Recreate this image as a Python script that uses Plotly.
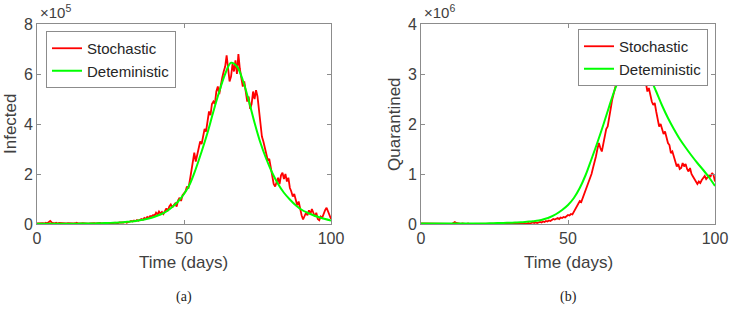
import numpy as np
import plotly.graph_objects as go

# ---------------- data (values in units of 1e5 / 1e6) ----------------
# Stochastic infected, every 0.5 day from t=0 to t=100 (x 1e5)
infected_stoch = [
    0.02, 0.03, 0.02, 0.04, 0.03, 0.02, 0.05, 0.03, 0.08, 0.12,
    0.06, 0.04, 0.03, 0.05, 0.02, 0.04, 0.03, 0.02, 0.03, 0.02,
    0.02, 0.03, 0.02, 0.04, 0.03, 0.02, 0.03, 0.05, 0.02, 0.01,
    0.02, 0.03, 0.02, 0.04, 0.02, 0.01, 0.02, 0.03, 0.02, 0.03,
    0.02, 0.03, 0.05, 0.04, 0.02, 0.03, 0.02, 0.06, 0.04, 0.03,
    0.02, 0.04, 0.03, 0.05, 0.04, 0.03, 0.06, 0.05, 0.07, 0.06,
    0.08, 0.05, 0.07, 0.09, 0.12, 0.10, 0.14, 0.11, 0.16, 0.13,
    0.18, 0.20, 0.17, 0.24, 0.21, 0.28, 0.25, 0.32, 0.30, 0.36,
    0.33, 0.45, 0.38, 0.50, 0.42, 0.48, 0.40, 0.55, 0.62, 0.52,
    0.70, 0.78, 0.66, 0.75, 0.82, 0.70, 0.95, 1.05, 0.92, 1.15,
    1.25, 1.30, 1.50, 1.42, 1.75, 2.10, 2.60, 2.85, 2.50, 2.75,
    3.00, 3.30, 3.20, 3.55, 3.80, 3.70, 4.20, 4.50, 4.35, 4.80,
    4.90, 4.80, 5.30, 5.50, 5.20, 5.60, 5.85, 6.10, 6.30, 6.75,
    6.20, 5.70, 5.90, 6.40, 6.10, 6.55, 6.00, 6.80, 6.20, 5.80,
    5.50, 5.70, 5.20, 4.90, 5.10, 4.60, 4.80, 5.30, 5.00, 5.35,
    5.10, 4.60, 3.90, 3.50, 3.30, 3.00, 2.75, 2.55, 2.60, 2.30,
    1.90, 1.60, 1.50, 1.70, 1.85, 1.60, 1.95, 2.05, 1.80, 2.00,
    1.70, 1.85, 1.45, 1.30, 1.10, 1.20, 0.95, 0.75, 0.90, 0.60,
    0.35, 0.18, 0.30, 0.45, 0.35, 0.55, 0.40, 0.60, 0.45, 0.30,
    0.45, 0.20, 0.15, 0.30, 0.25, 0.45, 0.55, 0.65, 0.50, 0.35,
    0.20,
]
# Deterministic infected, every 2 days from t=0 to t=100 (x 1e5)
infected_det = [
    0.01, 0.01, 0.01, 0.01, 0.01, 0.01, 0.01, 0.015, 0.02, 0.02,
    0.025, 0.03, 0.04, 0.05, 0.06, 0.08, 0.10, 0.13, 0.17, 0.22,
    0.29, 0.38, 0.50, 0.68, 0.90, 1.20, 1.60, 2.20, 2.90, 3.65,
    4.50, 5.30, 6.00, 6.45, 6.30, 5.75, 4.95, 4.05, 3.25, 2.60,
    2.05, 1.60, 1.25, 0.98, 0.75, 0.57, 0.45, 0.35, 0.27, 0.20,
    0.14,
]
# Stochastic quarantined, every 0.5 day (x 1e6)
quar_stoch = [
    0.01, 0.01, 0.00, 0.01, 0.00, 0.01, 0.00, 0.00, 0.01, 0.00,
    0.00, 0.01, 0.00, 0.00, 0.01, 0.00, 0.00, 0.01, 0.00, 0.00,
    0.01, 0.00, 0.02, 0.04, 0.02, 0.01, 0.00, 0.00, 0.01, 0.00,
    0.00, 0.00, 0.01, 0.00, 0.00, 0.00, 0.01, 0.00, 0.00, 0.00,
    0.00, 0.00, 0.00, 0.01, 0.00, 0.00, 0.00, 0.00, 0.00, 0.00,
    0.00, 0.00, 0.01, 0.00, 0.00, 0.01, 0.00, 0.00, 0.01, 0.00,
    0.00, 0.01, 0.00, 0.01, 0.00, 0.00, 0.01, 0.00, 0.01, 0.02,
    0.01, 0.00, 0.01, 0.02, 0.01, 0.02, 0.03, 0.02, 0.03, 0.02,
    0.03, 0.04, 0.03, 0.05, 0.04, 0.06, 0.05, 0.07, 0.06, 0.08,
    0.10, 0.09, 0.11, 0.12, 0.10, 0.13, 0.12, 0.14, 0.13, 0.16,
    0.18, 0.17, 0.20, 0.19, 0.24, 0.30, 0.36, 0.40, 0.46, 0.44,
    0.52, 0.58, 0.66, 0.72, 0.82, 0.90, 1.00, 1.12, 1.22, 1.35,
    1.50, 1.62, 1.52, 1.45, 1.60, 1.75, 1.90, 1.95, 2.10, 2.30,
    2.48, 2.60, 2.70, 2.85, 2.95, 3.02, 3.08, 3.15, 3.10, 3.20,
    3.25, 3.15, 3.22, 3.30, 3.20, 3.10, 3.18, 3.05, 2.95, 3.00,
    2.88, 2.95, 2.78, 2.82, 2.65, 2.72, 2.55, 2.45, 2.38, 2.42,
    2.25, 2.10, 1.95, 2.00, 1.88, 1.80, 1.85, 1.70, 1.62, 1.58,
    1.42, 1.45, 1.35, 1.28, 1.15, 1.20, 1.10, 1.12, 1.22, 1.15,
    1.20, 1.10, 1.05, 1.12, 1.00, 0.95, 0.90, 0.84, 0.80, 0.85,
    0.82, 0.88, 0.92, 0.96, 0.90, 0.93, 0.97, 0.95, 1.02, 0.98,
    0.85,
]
# Deterministic quarantined, every 2 days (x 1e6)
quar_det = [
    0.01, 0.01, 0.01, 0.01, 0.01, 0.01, 0.01, 0.01, 0.01, 0.01,
    0.01, 0.012, 0.015, 0.018, 0.02, 0.025, 0.03, 0.035, 0.045, 0.055,
    0.07, 0.10, 0.14, 0.20, 0.28, 0.38, 0.52, 0.72, 0.98, 1.30,
    1.63, 1.98, 2.35, 2.70, 2.98, 3.20, 3.32, 3.30, 3.15, 2.92,
    2.65, 2.37, 2.12, 1.90, 1.70, 1.53, 1.37, 1.22, 1.08, 0.93,
    0.76,
]
series_names = ["Stochastic", "Deteministic"]
x_ticks = [0, 50, 100]
y_ticks_left = [0, 2, 4, 6, 8]
y_ticks_right = [0, 1, 2, 3, 4]
y_labels = ["Infected", "Quarantined"]
x_label = "Time (days)"
multipliers = ["×10<sup>5</sup>", "×10<sup>6</sup>"]
captions = ["(a)", "(b)"]

t_stoch = np.arange(len(infected_stoch)) * 0.5
t_det = np.arange(len(infected_det)) * 2.0

RED = "#ff0000"
GREEN = "#00ff00"
FONT = "Liberation Sans, Arial, Helvetica, sans-serif"
TXT = "#404040"
AX = "#8c8c8c"

W, H = 729, 309
fig = go.Figure()

fig.add_trace(go.Scatter(x=t_stoch, y=infected_stoch, mode="lines", name=series_names[0],
                         line=dict(color=RED, width=1.8), xaxis="x", yaxis="y", legend="legend"))
fig.add_trace(go.Scatter(x=t_det, y=infected_det, mode="lines", name=series_names[1],
                         line=dict(color=GREEN, width=2, shape="spline"), xaxis="x", yaxis="y",
                         legend="legend"))
fig.add_trace(go.Scatter(x=np.arange(len(quar_stoch)) * 0.5, y=quar_stoch, mode="lines",
                         name=series_names[0], line=dict(color=RED, width=1.8),
                         xaxis="x2", yaxis="y2", legend="legend2"))
fig.add_trace(go.Scatter(x=np.arange(len(quar_det)) * 2.0, y=quar_det, mode="lines",
                         name=series_names[1], line=dict(color=GREEN, width=2, shape="spline"),
                         xaxis="x2", yaxis="y2", legend="legend2"))

xl = (37 / W, 331 / W)
xr = (421 / W, 715 / W)
yd = ((H - 224) / H, (H - 24) / H)

axis_common = dict(showgrid=False, zeroline=False, showline=True, linecolor=AX, linewidth=1,
                   mirror="ticks", ticks="inside", ticklen=4, tickcolor=AX, automargin=False,
                   tickfont=dict(family=FONT, size=16, color=TXT))

fig.update_layout(
    width=W, height=H, autosize=False,
    margin=dict(l=0, r=0, t=0, b=0, autoexpand=False),
    paper_bgcolor="white", plot_bgcolor="white",
    font=dict(family=FONT, color=TXT),
    xaxis=dict(domain=xl, range=[0, 100], tickvals=x_ticks, anchor="y", **axis_common),
    yaxis=dict(domain=yd, range=[0, 8], tickvals=y_ticks_left, anchor="x", **axis_common),
    xaxis2=dict(domain=xr, range=[0, 100], tickvals=x_ticks, anchor="y2", **axis_common),
    yaxis2=dict(domain=yd, range=[0, 4], tickvals=y_ticks_right, anchor="x2", **axis_common),
    legend=dict(x=46 / W, y=(H - 31) / H, xanchor="left", yanchor="top",
                bgcolor="white", bordercolor=AX, borderwidth=1,
                font=dict(family=FONT, size=15, color="#262626"),
                tracegroupgap=0, itemwidth=30),
    legend2=dict(x=708 / W, y=(H - 29) / H, xanchor="right", yanchor="top",
                 bgcolor="white", bordercolor=AX, borderwidth=1,
                 font=dict(family=FONT, size=15, color="#262626"),
                 tracegroupgap=0, itemwidth=30),
    showlegend=True,
)

ann = []
for i, (xd, ylab) in enumerate([(xl, y_labels[0]), (xr, y_labels[1])]):
    cx = (xd[0] + xd[1]) / 2
    ann.append(dict(text=x_label, x=cx, y=(H - 262) / H, xref="paper", yref="paper",
                    showarrow=False, font=dict(family=FONT, size=17, color=TXT),
                    xanchor="center", yanchor="middle"))
    ann.append(dict(text=ylab, x=(xd[0] * W - 27) / W, y=(H - 124) / H, xref="paper",
                    yref="paper", showarrow=False, textangle=-90,
                    font=dict(family=FONT, size=17, color=TXT),
                    xanchor="center", yanchor="middle"))
    ann.append(dict(text=multipliers[i], x=(xd[0] * W + 1) / W, y=(H - 11) / H,
                    xref="paper", yref="paper", showarrow=False,
                    font=dict(family=FONT, size=15, color=TXT),
                    xanchor="left", yanchor="middle"))
    ann.append(dict(text=captions[i], x=cx, y=(H - 297) / H, xref="paper", yref="paper",
                    showarrow=False, font=dict(family="Liberation Serif, Times New Roman, serif",
                                                size=14, color="#222222"),
                    xanchor="center", yanchor="middle"))
fig.update_layout(annotations=ann)

fig.write_html("out.html", config={"displayModeBar": False},
               post_script="document.body.style.margin='0';document.body.style.padding='0';")
